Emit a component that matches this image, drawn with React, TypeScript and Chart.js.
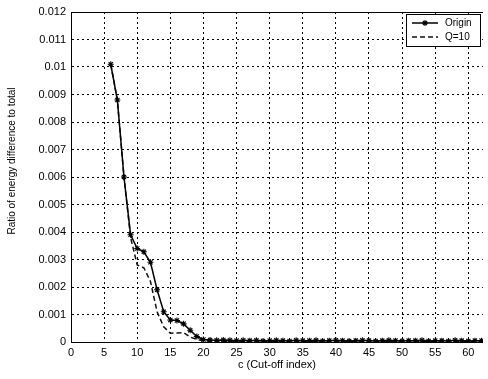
import React, { useEffect, useRef } from 'react';
import { Chart, registerables } from 'chart.js';

Chart.register(...registerables);

const cutoffIndex = [
  6, 7, 8, 9, 10, 11, 12, 13, 14, 15, 16, 17, 18, 19, 20, 21, 22, 23, 24, 25,
  26, 27, 28, 29, 30, 31, 32, 33, 34, 35, 36, 37, 38, 39, 40, 41, 42, 43, 44,
  45, 46, 47, 48, 49, 50, 51, 52, 53, 54, 55, 56, 57, 58, 59, 60, 61, 62, 63,
];

const originValues = [
  0.0101, 0.0088, 0.006, 0.0039, 0.0034, 0.00328, 0.0029, 0.0019, 0.0011, 0.0008,
  0.00078, 0.00066, 0.00043, 0.0002, 0.00009, 0.00007, 0.00006, 0.00007, 0.00006, 0.00005,
  0.00006, 0.00005, 0.00006, 0.00004, 0.00005, 0.00006, 0.00005, 0.00004, 0.00006, 0.00005,
  0.00005, 0.00006, 0.00004, 0.00005, 0.00006, 0.00005, 0.00004, 0.00005, 0.00006,
  0.00005, 0.00004, 0.00005, 0.00006, 0.00005, 0.00004, 0.00005, 0.00005, 0.00006, 0.00004,
  0.00005, 0.00005, 0.00004, 0.00006, 0.00005, 0.00004, 0.00005, 0.00005, 0.00004,
];

const q10Values = [
  0.0101, 0.0088, 0.006, 0.0038, 0.0028, 0.0027, 0.0022, 0.0011, 0.00055, 0.00032,
  0.00033, 0.00034, 0.00018, 0.0001, 0.00004, 0.00003, 0.00003, 0.00002, 0.00003, 0.00002,
  0.00003, 0.00002, 0.00002, 0.00003, 0.00002, 0.00002, 0.00003, 0.00002, 0.00002, 0.00003,
  0.00002, 0.00002, 0.00003, 0.00002, 0.00002, 0.00003, 0.00002, 0.00002, 0.00003,
  0.00002, 0.00002, 0.00003, 0.00002, 0.00002, 0.00003, 0.00002, 0.00002, 0.00003, 0.00002,
  0.00002, 0.00003, 0.00002, 0.00002, 0.00003, 0.00002, 0.00002, 0.00003, 0.00002,
];

const seriesNames = ['Origin', 'Q=10'];
const xTicks = [0, 5, 10, 15, 20, 25, 30, 35, 40, 45, 50, 55, 60];
const yTicks = [0, 0.001, 0.002, 0.003, 0.004, 0.005, 0.006, 0.007, 0.008, 0.009, 0.01, 0.011, 0.012];
const yTickLabels = ['0', '0.001', '0.002', '0.003', '0.004', '0.005', '0.006', '0.007', '0.008', '0.009', '0.01', '0.011', '0.012'];
const xTitle = 'c (Cut-off index)';
const yTitle = 'Ratio of energy difference to total';

const FONT = '"Liberation Sans", Arial, Helvetica, sans-serif';

function drawStar(ctx: CanvasRenderingContext2D, x: number, y: number, r: number) {
  ctx.beginPath();
  for (let k = 0; k < 4; k++) {
    const a = (k * Math.PI) / 4;
    ctx.moveTo(x - r * Math.cos(a), y - r * Math.sin(a));
    ctx.lineTo(x + r * Math.cos(a), y + r * Math.sin(a));
  }
  ctx.stroke();
}

const overlayPlugin = {
  id: 'overlay',
  afterDraw(chart: any) {
    const { ctx, chartArea } = chart;
    ctx.save();
    // top border of the axes box
    ctx.setLineDash([]);
    ctx.strokeStyle = '#000';
    ctx.lineWidth = 1;
    ctx.beginPath();
    ctx.moveTo(chartArea.left, chartArea.top + 0.5);
    ctx.lineTo(chartArea.right, chartArea.top + 0.5);
    ctx.stroke();

    // y axis title
    ctx.save();
    ctx.translate(12, 161);
    ctx.rotate(-Math.PI / 2);
    ctx.font = `10px ${FONT}`;
    ctx.fillStyle = '#000';
    ctx.textAlign = 'center';
    ctx.textBaseline = 'middle';
    ctx.fillText(yTitle, 0, 0);
    ctx.restore();

    // legend box
    const bx = 406;
    const by = 14;
    const bw = 74;
    const bh = 32;
    ctx.fillStyle = '#fff';
    ctx.fillRect(bx, by, bw, bh);
    ctx.strokeStyle = '#000';
    ctx.lineWidth = 1;
    ctx.strokeRect(bx + 0.5, by + 0.5, bw, bh);

    const rows = [by + 9, by + 23];
    ctx.font = `10px ${FONT}`;
    ctx.textAlign = 'left';
    ctx.textBaseline = 'middle';
    chart.data.datasets.forEach((ds: any, i: number) => {
      const y = rows[i];
      ctx.strokeStyle = ds.borderColor;
      ctx.lineWidth = ds.borderWidth;
      ctx.setLineDash(ds.borderDash || []);
      ctx.beginPath();
      ctx.moveTo(bx + 6, y);
      ctx.lineTo(bx + 32, y);
      ctx.stroke();
      ctx.setLineDash([]);
      if (ds.pointRadius > 0) {
        ctx.lineWidth = 1.1;
        drawStar(ctx, bx + 19, y, 3);
      }
      ctx.fillStyle = '#000';
      ctx.fillText(ds.label, bx + 39, y + 0.5);
    });
    ctx.restore();
  },
};

export default function App() {
  const canvasRef = useRef<HTMLCanvasElement | null>(null);

  useEffect(() => {
    document.body.style.margin = '0';
    const canvas = canvasRef.current;
    if (!canvas) return;

    const originData = cutoffIndex.map((x, i) => ({ x, y: originValues[i] }));
    const q10Data = cutoffIndex.map((x, i) => ({ x, y: q10Values[i] }));

    const tickFont = { family: FONT, size: 11 };

    const chart = new Chart(canvas, {
      type: 'line',
      data: {
        datasets: [
          {
            label: seriesNames[0],
            data: originData,
            borderColor: '#000',
            borderWidth: 1.5,
            pointStyle: 'star',
            pointRadius: 3,
            pointBorderColor: '#000',
            pointBackgroundColor: '#000',
            pointBorderWidth: 1.1,
            fill: false,
            tension: 0,
            order: 0,
          },
          {
            label: seriesNames[1],
            data: q10Data,
            borderColor: '#111',
            borderWidth: 1.5,
            borderDash: [5, 3],
            pointRadius: 0,
            fill: false,
            tension: 0,
            order: 1,
          },
        ],
      },
      options: {
        responsive: false,
        animation: false,
        maintainAspectRatio: false,
        parsing: false,
        normalized: true,
        layout: { padding: { top: 12, right: 0, left: 0, bottom: 0 } },
        plugins: {
          legend: { display: false },
          tooltip: { enabled: false },
          title: { display: false },
        },
        scales: {
          x: {
            type: 'linear',
            min: 0,
            max: 62.2,
            afterBuildTicks: (s: any) => {
              s.ticks = xTicks.map((v) => ({ value: v }));
            },
            afterFit: (s: any) => {
              s.height = 37;
            },
            ticks: {
              autoSkip: false,
              maxRotation: 0,
              padding: 4,
              color: '#000',
              font: tickFont,
              callback: (v: any) => String(v),
            },
            grid: { color: '#000', lineWidth: 1, drawTicks: false },
            border: { display: true, color: '#000', width: 1, dash: [2, 3] },
            title: {
              display: true,
              text: xTitle,
              color: '#000',
              font: { family: FONT, size: 11 },
              padding: { top: 0, bottom: 7 },
            },
          },
          y: {
            type: 'linear',
            min: 0,
            max: 0.012,
            afterBuildTicks: (s: any) => {
              s.ticks = yTicks.map((v) => ({ value: v }));
            },
            afterFit: (s: any) => {
              s.width = 71;
            },
            ticks: {
              autoSkip: false,
              padding: 5,
              color: '#000',
              font: tickFont,
              callback: (_v: any, i: number) => yTickLabels[i],
            },
            grid: { color: '#000', lineWidth: 1, drawTicks: false },
            border: { display: true, color: '#000', width: 1, dash: [2, 3] },
          },
        },
      },
      plugins: [overlayPlugin],
    } as any);

    return () => {
      chart.destroy();
    };
  }, []);

  return (
    <div style={{ width: 488, height: 379, background: '#fff' }}>
      <canvas ref={canvasRef} width={488} height={379} style={{ display: 'block', width: 488, height: 379 }} />
    </div>
  );
}
